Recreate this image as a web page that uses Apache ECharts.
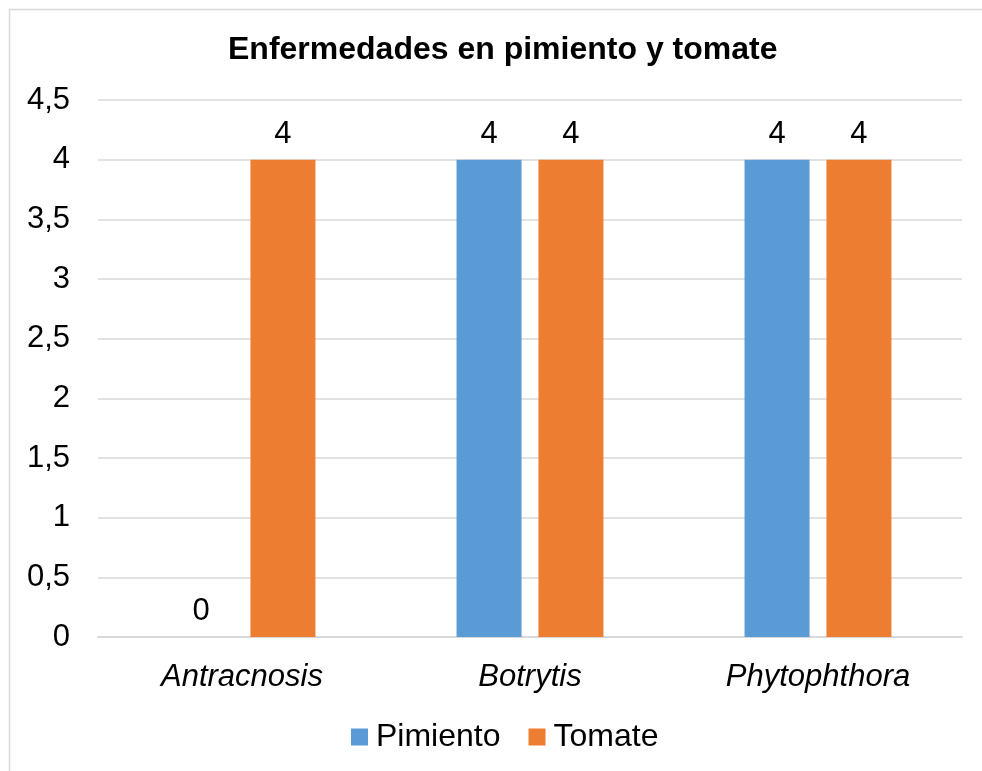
<!DOCTYPE html>
<html>
<head>
<meta charset="utf-8">
<script src="https://cdn.jsdelivr.net/npm/echarts@6/dist/echarts.min.js"></script>
<style>
  html, body { margin: 0; padding: 0; background: #fff; }
  #chart { width: 982px; height: 771px; }
</style>
</head>
<body>
<div id="chart"></div>
<script>
// Disease counts per crop
const categories = ['Antracnosis', 'Botrytis', 'Phytophthora'];
const pimiento = [0, 4, 4];
const tomate = [4, 4, 4];
const seriesNames = ['Pimiento', 'Tomate'];

const FONT = '"Liberation Sans", Arial, sans-serif';
const chart = echarts.init(document.getElementById('chart'), null, { renderer: 'canvas' });

const fmt = v => String(v).replace('.', ',');

const labelStyle = {
  show: true,
  position: 'top',
  distance: 10,
  color: '#000',
  fontFamily: FONT,
  fontSize: 31,
  formatter: p => fmt(p.value)
};

chart.setOption({
  backgroundColor: '#fff',
  animation: false,
  graphic: [{
    type: 'rect',
    shape: { x: 9.5, y: 9.5, width: 1000, height: 800 },
    style: { fill: 'none', stroke: '#d9d9d9', lineWidth: 1.5 },
    silent: true,
    z: -1
  }],
  title: {
    text: 'Enfermedades en pimiento y tomate',
    left: 223,
    top: 29,
    textStyle: { fontFamily: FONT, fontSize: 32, fontWeight: 'bold', color: '#000' }
  },
  legend: {
    data: seriesNames,
    bottom: 13,
    left: 346,
    itemWidth: 17,
    itemHeight: 17,
    itemGap: 28,
    icon: 'rect',
    textStyle: { fontFamily: FONT, fontSize: 32, color: '#000', padding: [0, 0, 0, 3] }
  },
  grid: { left: 98, right: 20, top: 100, bottom: 134, containLabel: false },
  xAxis: {
    type: 'category',
    data: categories,
    axisLine: { show: true, lineStyle: { color: '#d9d9d9', width: 2 } },
    axisTick: { show: false },
    axisLabel: {
      fontFamily: FONT, fontSize: 31, fontStyle: 'italic', color: '#000', margin: 25
    }
  },
  yAxis: {
    type: 'value',
    min: 0,
    max: 4.5,
    interval: 0.5,
    axisLine: { show: false },
    axisTick: { show: false },
    splitLine: { lineStyle: { color: '#d9d9d9', width: 1.5 } },
    axisLabel: {
      fontFamily: FONT, fontSize: 31, color: '#000', margin: 28,
      formatter: v => fmt(v)
    }
  },
  series: [
    {
      name: seriesNames[0],
      type: 'bar',
      data: pimiento,
      barWidth: 65,
      barGap: '26%',
      itemStyle: { color: '#5B9BD5' },
      label: labelStyle
    },
    {
      name: seriesNames[1],
      type: 'bar',
      data: tomate,
      barWidth: 65,
      barGap: '26%',
      itemStyle: { color: '#ED7D31' },
      label: labelStyle
    }
  ]
});
</script>
</body>
</html>
